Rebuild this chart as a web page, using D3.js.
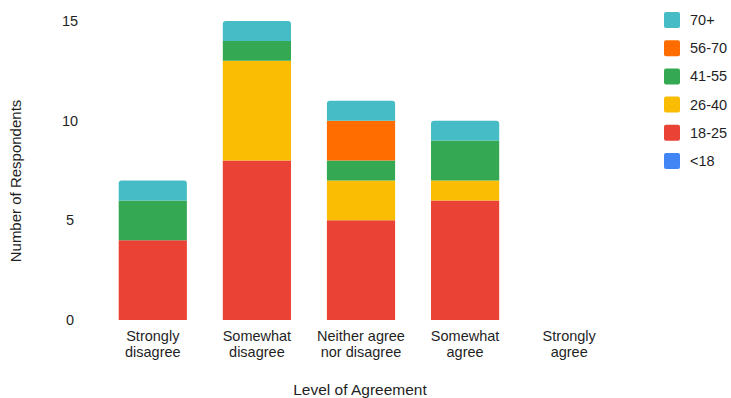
<!DOCTYPE html>
<html>
<head>
<meta charset="utf-8">
<script src="https://cdn.jsdelivr.net/npm/d3@7"></script>
<style>
  html, body { margin: 0; padding: 0; background: #fff; }
  svg { display: block; font-family: "Liberation Sans", Arial, sans-serif; }
</style>
</head>
<body>
<svg id="chart" width="731" height="398"></svg>
<script>
// Agreement levels (x categories), two-line labels
const categories = ["Strongly disagree", "Somewhat disagree", "Neither agree nor disagree", "Somewhat agree", "Strongly agree"];
const categoryLines = [["Strongly", "disagree"], ["Somewhat", "disagree"], ["Neither agree", "nor disagree"], ["Somewhat", "agree"], ["Strongly", "agree"]];

// Age groups, stacked bottom to top
const ageGroups = ["<18", "18-25", "26-40", "41-55", "56-70", "70+"];
const ageColors = ["#4285F4", "#EA4335", "#FBBC04", "#34A853", "#FF6D01", "#46BDC6"];

// Respondent counts per age group, one value per agreement level
const under18 = [0, 0, 0, 0, 0];
const age18to25 = [4, 8, 5, 6, 0];
const age26to40 = [0, 5, 2, 1, 0];
const age41to55 = [2, 1, 1, 2, 0];
const age56to70 = [0, 0, 2, 0, 0];
const age70plus = [1, 1, 1, 1, 0];

const yTicks = [0, 5, 10, 15];

const seriesValues = [under18, age18to25, age26to40, age41to55, age56to70, age70plus];
const rows = categories.map((c, i) => {
  const r = { category: c };
  ageGroups.forEach((g, j) => { r[g] = seriesValues[j][i]; });
  return r;
});

const svg = d3.select("#chart");
const textColor = "#1f1f1f";

const x = d3.scaleBand().domain(categories).range([101, 621]).paddingInner(0.345).paddingOuter(0.17);
const y = d3.scaleLinear().domain([0, 15]).range([320, 21]);

const stack = d3.stack().keys(ageGroups)(rows);

// top segment of each bar gets rounded top corners
const topIndex = categories.map((c, i) => {
  let t = -1;
  ageGroups.forEach((g, j) => { if (seriesValues[j][i] > 0) t = j; });
  return t;
});

function roundedTop(x0, y0, w, h, r) {
  r = Math.min(r, h, w / 2);
  return `M${x0},${y0 + h}V${y0 + r}Q${x0},${y0} ${x0 + r},${y0}H${x0 + w - r}Q${x0 + w},${y0} ${x0 + w},${y0 + r}V${y0 + h}Z`;
}

const g = svg.append("g");
stack.forEach((layer, j) => {
  g.selectAll(null)
    .data(layer.map((d, i) => ({ d, i })).filter(o => o.d[1] - o.d[0] > 0))
    .join("path")
    .attr("fill", ageColors[j])
    .attr("d", o => {
      const x0 = x(categories[o.i]);
      const y0 = y(o.d[1]);
      const h = y(o.d[0]) - y0;
      const r = topIndex[o.i] === j ? 3 : 0;
      return roundedTop(x0, y0, x.bandwidth(), h, r);
    });
});

// y axis labels (no axis line)
const yAxis = svg.append("g")
  .attr("transform", `translate(77,0)`)
  .call(d3.axisLeft(y).tickValues(yTicks).tickSize(0).tickPadding(0));
yAxis.select(".domain").remove();
yAxis.selectAll("text")
  .attr("text-anchor", "middle")
  .attr("x", -7)
  .attr("font-size", 14.5)
  .attr("fill", textColor)
  .style("font-family", "Liberation Sans, Arial, sans-serif");

// x axis labels
const xAxis = svg.append("g")
  .attr("transform", `translate(0,320)`)
  .call(d3.axisBottom(x).tickSize(0).tickFormat(""));
xAxis.select(".domain").remove();
xAxis.selectAll(".tick").each(function (d, i) {
  const t = d3.select(this).append("text")
    .attr("text-anchor", "middle")
    .attr("font-size", 14.5)
    .attr("fill", textColor)
    .attr("y", 21);
  categoryLines[i].forEach((line, k) => {
    t.append("tspan").attr("x", 0).attr("dy", k === 0 ? 0 : 16).text(line);
  });
});

// axis titles
svg.append("text")
  .attr("x", 360).attr("y", 395)
  .attr("text-anchor", "middle")
  .attr("font-size", 15.5).attr("fill", textColor)
  .text("Level of Agreement");
svg.append("text")
  .attr("transform", "translate(21,181) rotate(-90)")
  .attr("text-anchor", "middle")
  .attr("font-size", 15).attr("fill", textColor)
  .text("Number of Respondents");

// legend, top group first
const legendItems = ageGroups.map((gname, j) => ({ name: gname, color: ageColors[j] })).reverse();
const legend = svg.append("g").attr("transform", "translate(664,12)");
const item = legend.selectAll("g").data(legendItems).join("g")
  .attr("transform", (d, i) => `translate(0,${i * 28.2})`);
item.append("rect")
  .attr("width", 16).attr("height", 16).attr("rx", 2)
  .attr("fill", d => d.color);
item.append("text")
  .attr("x", 26).attr("y", 13)
  .attr("font-size", 14.5).attr("fill", textColor)
  .text(d => d.name);
</script>
</body>
</html>
